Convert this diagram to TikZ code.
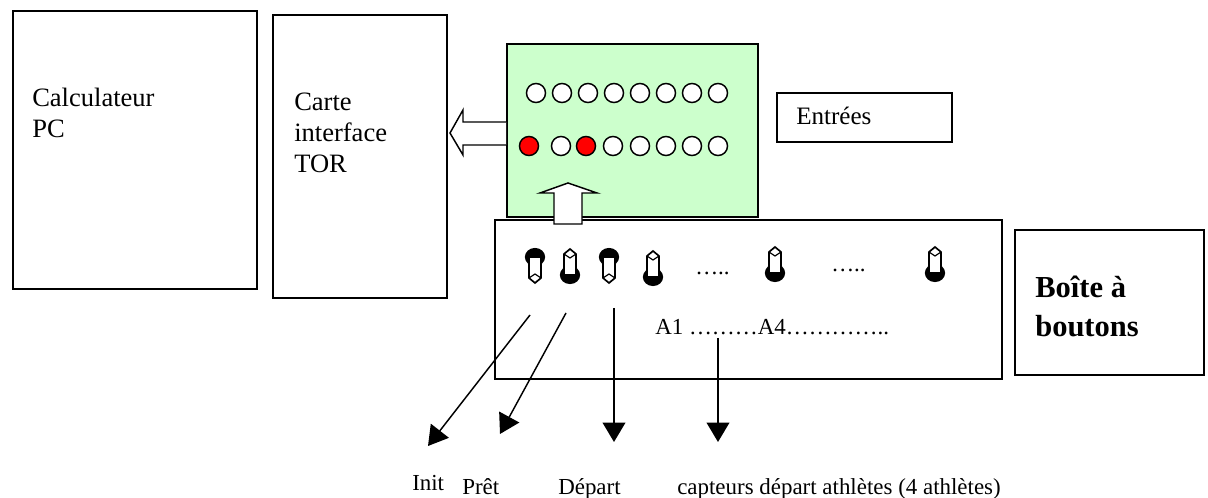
\documentclass[tikz,border=0pt]{standalone}
\usepackage{fontspec}
\setmainfont{Liberation Serif}
\usetikzlibrary{arrows.meta, positioning}
\definecolor{panelgreen}{HTML}{CCFFCC}
\tikzset{
    box/.style 2 args={draw, line width=1.3pt, anchor=north west, inner sep=0pt,
        minimum width=#1*0.75pt, minimum height=#2*0.75pt},
    txt/.style={anchor=base west, inner sep=0pt, font=\fontsize{19.9}{23.9}\selectfont},
    lbl/.style={anchor=base west, inner sep=0pt, font=\fontsize{17.2}{20.6}\selectfont},
    led/.style={circle, draw, line width=1.1pt, minimum size=14.3pt, inner sep=0pt},
    hollow/.style={draw, fill=white, line width=1.1pt, line join=miter},
    sig/.style={line width=1.1pt, -{Triangle[length=14.5pt, width=17pt]}},
    lever/.pic={
        \fill (0,-8) ellipse (7.6pt and 6.8pt);
        \filldraw[fill=white, line width=1.25pt] (-6,-8) -- (6,-8) -- (6,13) -- (0,18) -- (-6,13) -- cycle;
        \draw[line width=0.9pt] (-6,13) -- (0,9) -- (6,13);
    },
    balltop/.pic={\pic {lever};},
    ballbot/.pic={\pic[yscale=-1] {lever};}
}

\begin{document}
\begin{tikzpicture}[x=0.75pt, y=-0.75pt]
    \useasboundingbox (0,0) rectangle (1208,498);

    % PC and interface card
    \node[box={244}{278}]  (calc)   at (12,10)  {};
    \node[txt]             (calc1)  at (32,107) {Calculateur};
    \node[txt]             (calc2)  at (32,138) {PC};
    \node[box={174}{283}]  (carte)  at (272,14) {};
    \node[txt]             (carte1) at (294,111) {Carte};
    \node[txt]             (carte2) at (294,142) {interface};
    \node[txt]             (carte3) at (294,173) {TOR};

    % input panel
    \node[box={251}{173}, fill=panelgreen] (panel) at (506,43) {};
    \foreach \x [count=\i] in {536,562,588,614,640,666,692,718}
        \node[led, fill=white] (top\i) at (\x,93) {};
    \foreach \x/\c [count=\i] in {529/red, 561/white, 586/red, 613/white, 640/white, 666/white, 692/white, 718/white}
        \node[led, fill=\c] (bot\i) at (\x,146) {};
    \node[box={175}{49}]   (entrees)  at (776,92)  {};
    \node[txt, font=\fontsize{18.8}{22.5}\selectfont] (entreestxt) at (796,125) {Entrées};

    % button box
    \node[box={507}{159}]  (boitier)  at (494,219) {};
    \pic at (535,265) {balltop};
    \pic at (570,267) {ballbot};
    \pic at (609,265) {balltop};
    \pic at (653,269) {ballbot};
    \pic at (775,265) {ballbot};
    \pic at (935,265) {ballbot};
    \node[lbl] (dots1) at (695,275) {…..};
    \node[lbl] (dots2) at (831,272) {…..};
    \node[lbl] (a14)   at (655,335) {A1 ………A4…………..};
    \node[box={189}{145}]  (boite)    at (1014,229) {};
    \node[txt, font=\fontsize{22.9}{27.5}\selectfont\bfseries] (boite1) at (1035,298) {Boîte à};
    \node[txt, font=\fontsize{22.9}{27.5}\selectfont\bfseries] (boite2) at (1035,337) {boutons};

    % hollow arrows
    \filldraw[hollow] (506,122) -- (463,122) -- (463,110) -- (450,133) -- (463,155) -- (463,145) -- (506,145);
    \filldraw[hollow] (554,224) -- (554,193) -- (540,193) -- (568,183) -- (597,193) -- (582,193) -- (582,224) -- cycle;

    % signals
    \coordinate (initS)  at (530,315);
    \coordinate (initE)  at (428,446);
    \coordinate (pretS)  at (566,313);
    \coordinate (pretE)  at (500,434);
    \coordinate (depS)   at (614,308);
    \coordinate (depE)   at (614,442);
    \coordinate (captS)  at (718,338);
    \coordinate (captE)  at (718,442);
    \draw[sig] (initS) -- (initE);
    \draw[sig] (pretS) -- (pretE);
    \draw[sig] (depS)  -- (depE);
    \draw[sig] (captS) -- (captE);

    \node[lbl] (init)    at (412,491) {Init};
    \node[lbl] (pret)    at (462,495) {Prêt};
    \node[lbl] (depart)  at (558,495) {Départ};
    \node[lbl] (capteur) at (677,495) {capteurs départ athlètes (4 athlètes)};
\end{tikzpicture}
\end{document}
